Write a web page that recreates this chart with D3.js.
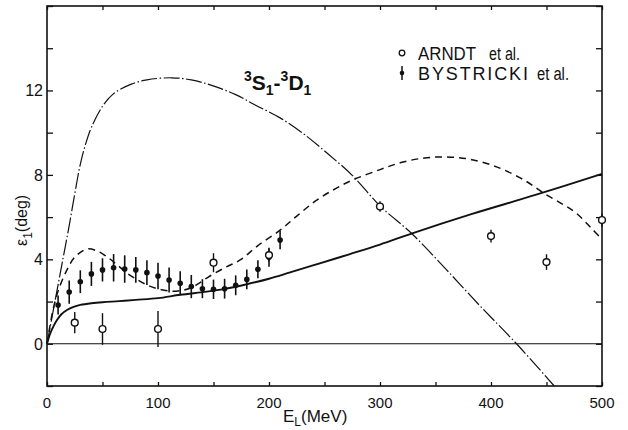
<!DOCTYPE html>
<html><head><meta charset="utf-8">
<script src="https://cdn.jsdelivr.net/npm/d3@7"></script>
<style>body{margin:0;background:#fff}svg{display:block}text{font-family:"Liberation Sans",Arial,sans-serif;fill:#111}</style>
</head><body>
<svg id="c" width="628" height="430"></svg>
<script>
// ---- data ----
const xTicksMajor = [0,100,200,300,400,500];
const xTicksMinor = [0,50,100,150,200,250,300,350,400,450,500];
const yTicksMajor = [0,4,8,12];
const yTicksMinor = [-2,0,2,4,6,8,10,12,14,16];

const dashDotE = [0,5,10,15,20,25,30,35,40,50,60,76,90,112,130,149,170,188,210,231,253,275,300,329,360,390,423,457];
const dashDotV = [0,1.4,2.8,4.2,5.6,7.1,8.5,9.5,10.25,11.25,11.85,12.3,12.5,12.6,12.5,12.23,11.8,11.3,10.7,9.95,9.0,7.98,6.53,5.2,3.5,1.8,0,-2];

const dashedE = [0,5,10,18,25,36,45,54,63,72,81,90,100,110,118,126,135,145,160,174,190,210,225,243,260,275,300,320,340,358,380,405,430,448,465,477,490,500];
const dashedV = [0,1.5,2.5,3.5,4.1,4.49,4.4,4.12,3.75,3.35,3.05,2.79,2.6,2.5,2.5,2.58,2.8,3.15,3.6,3.97,4.65,5.38,6.05,6.8,7.35,7.75,8.25,8.6,8.8,8.85,8.75,8.38,7.75,7.12,6.6,6.18,5.5,4.95];

const solidE = [0,3,6,9,13,18,24,30,40,50,65,80,100,120,144,160,180,200,219,245,273,300,329,383,440,500];
const solidV = [0,0.5,0.85,1.13,1.4,1.6,1.75,1.84,1.92,1.97,2.02,2.08,2.16,2.32,2.47,2.6,2.82,3.08,3.38,3.8,4.25,4.7,5.23,6.15,7.05,8.05];

const arndtE = [25,50,100,150,200,300,400,450,500];
const arndtV = [1.0,0.7,0.7,3.84,4.2,6.5,5.1,3.87,5.86];
const arndtErr = [0.5,0.75,0.85,0.45,0.3,0.25,0.3,0.37,0.3];

const bysE = [10,20,30,40,50,60,70,80,90,100,110,120,130,140,150,160,170,180,190,200,210];
const bysV = [1.84,2.45,2.94,3.31,3.5,3.6,3.54,3.5,3.37,3.21,3.02,2.87,2.71,2.61,2.58,2.61,2.77,3.05,3.53,4.1,4.91];
const bysErr = [0.45,0.55,0.54,0.57,0.55,0.65,0.65,0.61,0.59,0.63,0.59,0.57,0.55,0.45,0.46,0.47,0.47,0.47,0.43,0.45,0.43];

const legendLabels = ["ARNDT","BYSTRICKI"];
const legendSuffix = "et al.";

// ---- drawing ----
const svg = d3.select("#c");
const x = d3.scaleLinear().domain([0,500]).range([47,602]);
const y = d3.scaleLinear().domain([-2,16]).range([386,6]);
const ink = "#111";

// frame
svg.append("rect").attr("x",x(0)).attr("y",y(16)).attr("width",x(500)-x(0)).attr("height",y(-2)-y(16))
  .attr("fill","none").attr("stroke",ink).attr("stroke-width",1.6);

// axes with inward ticks
const gB = svg.append("g").attr("transform",`translate(0,${y(-2)})`)
  .call(d3.axisTop(x).tickValues(xTicksMinor).tickSize(4).tickFormat(""));
const gT = svg.append("g").attr("transform",`translate(0,${y(16)})`)
  .call(d3.axisBottom(x).tickValues(xTicksMinor).tickSize(4).tickFormat(""));
const gL = svg.append("g").attr("transform",`translate(${x(0)},0)`)
  .call(d3.axisRight(y).tickValues(yTicksMinor).tickSize(6).tickFormat(""));
const gR = svg.append("g").attr("transform",`translate(${x(500)},0)`)
  .call(d3.axisLeft(y).tickValues(yTicksMinor).tickSize(6).tickFormat(""));
[gB,gT,gL,gR].forEach(g=>{g.select(".domain").remove();g.selectAll("line").attr("stroke",ink).attr("stroke-width",1.3);});

// tick labels
svg.append("g").selectAll("text").data(xTicksMajor).join("text")
  .attr("x",d=>x(d)).attr("y",408).attr("text-anchor","middle").attr("font-size",15).text(d=>d);
svg.append("g").selectAll("text").data(yTicksMajor).join("text")
  .attr("x",43).attr("y",d=>y(d)+5.8).attr("text-anchor","end").attr("font-size",16).text(d=>d);

// zero line
svg.append("line").attr("x1",x(0)).attr("x2",x(500)).attr("y1",y(0)).attr("y2",y(0))
  .attr("stroke",ink).attr("stroke-width",1.1);

// curves
const line = d3.line().x(d=>x(d[0])).y(d=>y(d[1])).curve(d3.curveCatmullRom.alpha(0.5));
const zip = (a,b)=>a.map((v,i)=>[v,b[i]]);
svg.append("path").attr("d",line(zip(dashDotE,dashDotV))).attr("fill","none").attr("stroke",ink)
  .attr("stroke-width",1.2).attr("stroke-dasharray","16,2.5,1.5,2.5");
svg.append("path").attr("d",line(zip(dashedE,dashedV))).attr("fill","none").attr("stroke",ink)
  .attr("stroke-width",1.5).attr("stroke-dasharray","7,5");
svg.append("path").attr("d",line(zip(solidE,solidV))).attr("fill","none").attr("stroke",ink)
  .attr("stroke-width",1.9);

// Bystricki points
const bys = bysE.map((e,i)=>({e,v:bysV[i],err:bysErr[i]}));
const gBy = svg.append("g");
gBy.selectAll("line").data(bys).join("line")
  .attr("x1",d=>x(d.e)).attr("x2",d=>x(d.e)).attr("y1",d=>y(d.v-d.err)).attr("y2",d=>y(d.v+d.err))
  .attr("stroke",ink).attr("stroke-width",1.6);
gBy.selectAll("circle").data(bys).join("circle")
  .attr("cx",d=>x(d.e)).attr("cy",d=>y(d.v)).attr("r",2.8).attr("fill",ink);

// Arndt points
const ar = arndtE.map((e,i)=>({e,v:arndtV[i],err:arndtErr[i]}));
const gA = svg.append("g");
gA.selectAll("line").data(ar).join("line")
  .attr("x1",d=>x(d.e)).attr("x2",d=>x(d.e)).attr("y1",d=>y(d.v-d.err)).attr("y2",d=>y(d.v+d.err))
  .attr("stroke",ink).attr("stroke-width",1.4);
gA.selectAll("circle").data(ar).join("circle")
  .attr("cx",d=>x(d.e)).attr("cy",d=>y(d.v)).attr("r",3.4).attr("fill","#fff").attr("stroke",ink).attr("stroke-width",1.4);

// legend
svg.append("circle").attr("cx",402).attr("cy",53).attr("r",2.8).attr("fill","#fff").attr("stroke",ink).attr("stroke-width",1.3);
svg.append("line").attr("x1",402).attr("x2",402).attr("y1",66).attr("y2",80).attr("stroke",ink).attr("stroke-width",1.5);
svg.append("circle").attr("cx",402).attr("cy",73).attr("r",2.3).attr("fill",ink);
svg.append("text").attr("x",418).attr("y",60).attr("font-size",18).attr("textLength",58).attr("lengthAdjust","spacingAndGlyphs").text(legendLabels[0]);
svg.append("text").attr("x",489).attr("y",60).attr("font-size",18).attr("textLength",31).attr("lengthAdjust","spacingAndGlyphs").text(legendSuffix);
svg.append("text").attr("x",418).attr("y",80).attr("font-size",18).attr("textLength",110).attr("lengthAdjust","spacing").text(legendLabels[1]);
svg.append("text").attr("x",537).attr("y",80).attr("font-size",18).attr("textLength",32).attr("lengthAdjust","spacingAndGlyphs").text(legendSuffix);

// title 3S1-3D1
const t = svg.append("text").attr("x",244).attr("y",90).attr("font-size",21).attr("font-weight","bold");
t.append("tspan").attr("font-size",14).attr("dy",-9).text("3");
t.append("tspan").attr("dy",9).text("S");
t.append("tspan").attr("font-size",14).attr("dy",5).text("1");
t.append("tspan").attr("dy",-5).text("-");
t.append("tspan").attr("font-size",14).attr("dy",-9).text("3");
t.append("tspan").attr("dy",9).text("D");
t.append("tspan").attr("font-size",14).attr("dy",5).text("1");

// x axis title
const xt = svg.append("text").attr("x",283).attr("y",422).attr("font-size",17);
xt.append("tspan").text("E");
xt.append("tspan").attr("font-size",12).attr("dy",4).text("L");
xt.append("tspan").attr("dy",-4).text("(MeV)");

// y axis title
const yt = svg.append("text").attr("transform","translate(27,246) rotate(-90)").attr("font-size",16);
yt.append("tspan").text("ε");
yt.append("tspan").attr("font-size",12).attr("dy",5).text("1");
yt.append("tspan").attr("dy",-5).text("(deg)");
</script>
</body></html>
